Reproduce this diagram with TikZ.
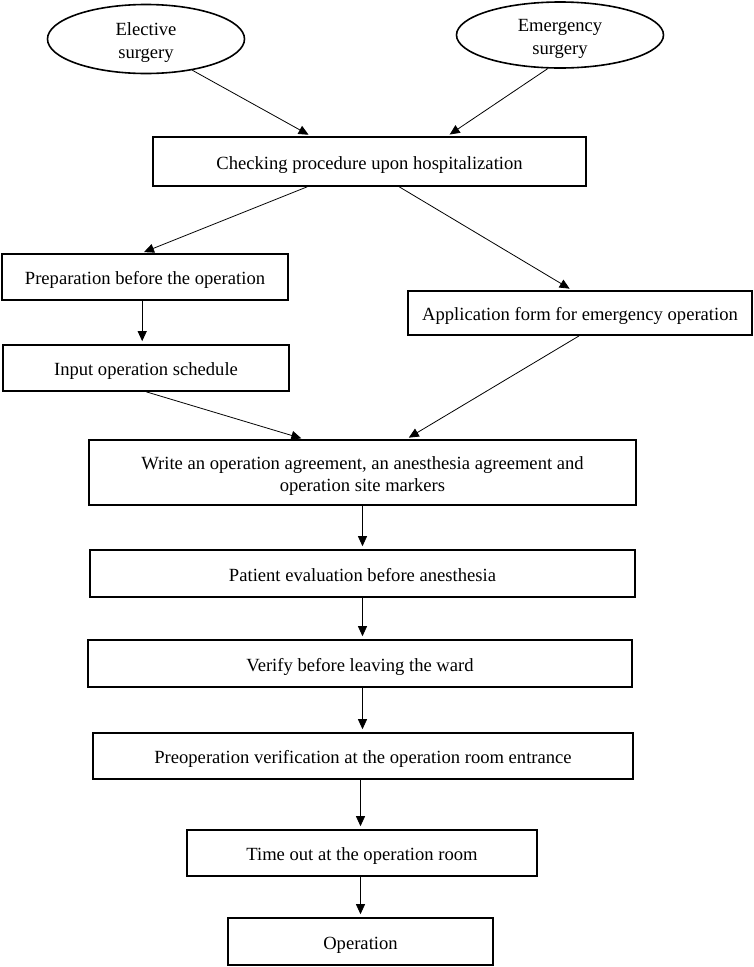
\documentclass[tikz,border=0pt]{standalone}
\usepackage{fontspec}
\setmainfont{Liberation Serif}
\usetikzlibrary{shapes.geometric,arrows.meta,calc}
\begin{document}
\begin{tikzpicture}[x=1pt,y=-1pt,
  every node/.style={font=\fontsize{18.6}{22.5}\selectfont, inner sep=0pt, align=center},
  box/.style={draw, rectangle, line width=1.6pt, text height=18pt, text depth=3pt},
  twoline/.style={text height=40pt, text depth=2pt},
  oval/.style={draw, ellipse, line width=1.6pt, twoline},
  conn/.style={line width=0.8pt, -{Triangle[length=10pt,width=9pt]}, shorten >=3pt}
]
\useasboundingbox (0,0) rectangle (753,967);
% nodes
\node[oval, minimum width=197pt, minimum height=69pt] (ell1) at (146,39) {Elective\\surgery};
\node[oval, minimum width=207pt, minimum height=66pt] (ell2) at (560,35) {Emergency\\surgery};
\node[box, minimum width=433pt, minimum height=49pt] (check) at (369.5,161.5) {Checking procedure upon hospitalization};
\node[box, minimum width=286pt, minimum height=46pt] (prep) at (145,277) {Preparation before the operation};
\node[box, minimum width=286pt, minimum height=46pt] (input) at (146,368) {Input operation schedule};
\node[box, minimum width=344pt, minimum height=44pt] (app) at (580,313) {Application form for emergency operation};
\node[box, twoline, minimum width=547pt, minimum height=65pt] (write) at (362.5,472.5) {Write an operation agreement, an anesthesia agreement and\\operation site markers};
\node[box, minimum width=545pt, minimum height=47pt] (patient) at (362.5,573.5) {Patient evaluation before anesthesia};
\node[box, minimum width=544pt, minimum height=47pt] (verify) at (360,663.5) {Verify before leaving the ward};
\node[box, minimum width=540pt, minimum height=46pt] (preop) at (363,756) {Preoperation verification at the operation room entrance};
\node[box, minimum width=350pt, minimum height=46pt] (timeout) at (362,853) {Time out at the operation room};
\node[box, minimum width=265pt, minimum height=47pt] (oper) at (360.5,941.5) {Operation};
% connector end points
\coordinate (c1) at ($(check.north west)+(159,0)$);
\coordinate (c2) at ($(check.north west)+(295,0)$);
\coordinate (c3) at ($(check.south west)+(155,0)$);
\coordinate (c4) at ($(check.south west)+(247,0)$);
\coordinate (p1) at ($(prep.north west)+(140,0)$);
\coordinate (p2) at ($(prep.south west)+(141,0)$);
\coordinate (i1) at ($(input.north west)+(140,0)$);
\coordinate (i2) at ($(input.south west)+(144,0)$);
\coordinate (a1) at ($(app.north west)+(165,0)$);
\coordinate (a2) at ($(app.south west)+(172,0)$);
\coordinate (w1) at ($(write.north west)+(216,0)$);
\coordinate (w2) at ($(write.north west)+(318,0)$);
% connectors
\draw[conn] (ell1.-34) -- (c1);
\draw[conn] (ell2.-110) -- (c2);
\draw[conn] (c3) -- (p1);
\draw[conn] (c4) -- (a1);
\draw[conn] (p2) -- (i1);
\draw[conn] (i2) -- (w1);
\draw[conn] (a2) -- (w2);
\draw[conn] (write.south) -- (write.south |- patient.north);
\draw[conn] (patient.south) -- (patient.south |- verify.north);
\draw[conn] (verify.south -| patient.south) -- (patient.south |- preop.north);
\draw[conn] (preop.south -| oper.north) -- (oper.north |- timeout.north);
\draw[conn] (timeout.south -| oper.north) -- (oper.north);
\end{tikzpicture}
\end{document}
